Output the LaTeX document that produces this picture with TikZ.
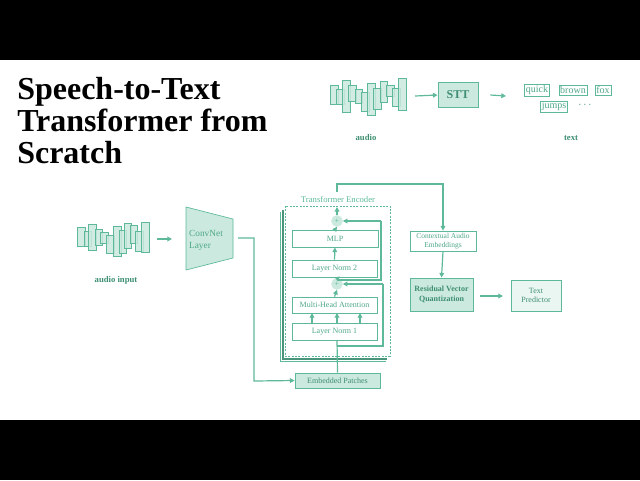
\documentclass[tikz,border=0pt]{standalone}
\usepackage{fontspec}
\setmainfont{Liberation Serif}
\usetikzlibrary{arrows.meta}
\definecolor{gl}{HTML}{5DB99A}
\definecolor{gf}{HTML}{CBE9DE}
\definecolor{gt}{HTML}{3F8F72}
\definecolor{gm}{HTML}{4FA888}
\begin{document}
\begin{tikzpicture}[x=0.75pt,y=-0.75pt,
 ln/.style={gl,line width=0.9pt},
 ar/.style={gl,line width=0.9pt,-{Triangle[length=3.5pt,width=3.5pt]}},
 bx/.style={draw=gl,line width=0.6pt,fill=white,text=gm,font=\fontsize{6}{7}\selectfont,align=center,inner sep=0pt},
 fb/.style={bx,fill=gf,text=gt},
 wb/.style={draw=gl,fill=white,text=gm,inner sep=1pt,font=\fontsize{7.5}{8}\selectfont},
 lab/.style={text=gt,font=\bfseries\fontsize{6.5}{7}\selectfont},
 bar/.style={draw=gl,fill=gf,line width=0.5pt,fill opacity=0.85}]
\useasboundingbox (0,0) rectangle (640,480);
\fill[black] (0,0) rectangle (640,60);
\fill[black] (0,420) rectangle (640,480);
\node[anchor=north west,align=left,font=\bfseries\fontsize{24}{24}\selectfont,inner sep=0pt] (title) at (17,77) {Speech-to-Text\\Transformer from\\Scratch};
% top waveform
\foreach \x/\a/\b in {34/45/103,52/58/103,70/30/128,88/45/95,108/58/100,127/68/123,145/40/135,163/55/118,183/35/98,202/45/80,220/55/110,238/25/120}
  \draw[bar] ({319+\x/3},{70+\a/3}) rectangle ({326.5+\x/3},{70+\b/3});
\coordinate (wa) at (415,96);
\node[fb,minimum width=40*0.75pt,minimum height=25*0.75pt,font=\bfseries\fontsize{9}{10}\selectfont] (stt) at (458,95) {STT};
\draw[ar] (wa) -- (stt.west);
\node[wb] (q) at (537,90.5) {quick};
\node[wb] (br) at (573,90.5) {brown};
\node[wb] (fx) at (603,90.5) {fox};
\node[wb] (ju) at (554,106.5) {jumps};
\node[text=gt,font=\bfseries\fontsize{8}{8}\selectfont] (dots) at (585,105) {$\cdots$};
\coordinate (ta) at (506,96);
\draw[ar] (stt.east)++(12,0) -- (ta);
\node[lab] (la) at (366,138) {audio};
\node[lab] (lt) at (571,138) {text};
% audio input
\foreach \x/\a/\b in {25/82/140,45/95/140,58/72/150,78/88/135,95/97/130,113/105/160,133/78/170,150/92/160,165/70/145,183/75/130,200/93/155,218/67/157}
  \draw[bar] ({69+\x/3},{200+\a/3}) rectangle ({76.5+\x/3},{200+\b/3});
\node[lab] (lai) at (116,280) {audio input};
\draw[bar,fill opacity=1] (186,207) -- (233,219) -- (233,258) -- (186,270) -- cycle;
\node[text=gm,align=left,font=\fontsize{7}{9}\selectfont] (cn) at (206,240) {ConvNet\\Layer};
\coordinate (ca) at (157,239);
\draw[ar] (ca) -- (172,239);
% embedded patches
\node[fb,minimum width=85*0.75pt,minimum height=15*0.75pt] (ep) at (337.5,380.5) {Embedded Patches};
\coordinate (c1) at (238,238);
\draw[ar] (c1) -- (254,238) -- (254,381) -- (ep.west);
% encoder
\draw[gl!80!black,line width=2pt] (283,210) -- (283,359) -- (387,359);
\draw[gl,line width=0.5pt] (280,212) -- (280,361) -- (386,361);
\draw[gl,dashed,line width=0.6pt,dash pattern=on 1.5pt off 1pt,fill=white] (285,206) rectangle (390,356);
\node[text=gl,font=\fontsize{6.5}{7}\selectfont] (te) at (338,199) {Transformer Encoder};
\node[bx,minimum width=86*0.75pt,minimum height=17*0.75pt] (mlp) at (335,238.5) {MLP};
\node[bx,minimum width=85*0.75pt,minimum height=17*0.75pt] (ln2) at (334.5,268.5) {Layer Norm 2};
\node[bx,minimum width=85*0.75pt,minimum height=16*0.75pt] (mha) at (334.5,305) {Multi-Head Attention};
\node[bx,minimum width=85*0.75pt,minimum height=17*0.75pt] (ln1) at (334.5,331.5) {Layer Norm 1};
\node[circle,fill=gf,draw=gf,minimum size=11*0.75pt,inner sep=0pt,text=gl,font=\fontsize{6}{6}\selectfont] (p1) at (337,221) {+};
\node[circle,fill=gf,draw=gf,minimum size=11*0.75pt,inner sep=0pt,text=gl,font=\fontsize{6}{6}\selectfont] (p2) at (337,284) {+};
\draw[ln] (ep.north) -- (337,340);
\draw[ln] (337,346) -- (383,346) -- (383,284);
\draw[ar] (383,284) -- (p2.east);
\draw[ln] (337,280) -- (381,280) -- (381,221);
\draw[ar] (381,221) -- (p1.east);
\foreach \x in {312,337,360} \draw[ar] (\x,323) -- (\x,313);
\draw[ar] (mha.north) -- (p2.south);
\draw[ar] (p2.north) -- (ln2.south);
\draw[ar] (ln2.north) -- (mlp.south);
\draw[ar] (mlp.north) -- (p1.south);
\draw[ar] (p1.north) -- (337,207);
% right side
\node[bx,minimum width=66*0.75pt,minimum height=20*0.75pt,inner sep=1pt,font=\fontsize{5.6}{6.5}\selectfont] (cae) at (443,241) {Contextual Audio\\Embeddings};
\draw[ar] (337,192) -- (337,184) -- (443,184) -- (cae.north);
\node[fb,minimum width=63*0.75pt,minimum height=33*0.75pt,font=\bfseries\fontsize{6}{7}\selectfont] (rvq) at (441.5,294.5) {Residual Vector\\Quantization};
\draw[ar] (cae.south) -- (rvq.north);
\node[bx,fill=gf!40,minimum width=50*0.75pt,minimum height=31*0.75pt,text=gt] (tp) at (536,295.5) {Text\\Predictor};
\coordinate (ra) at (480,296);
\draw[ar] (ra) -- (503,296);
\end{tikzpicture}
\end{document}
